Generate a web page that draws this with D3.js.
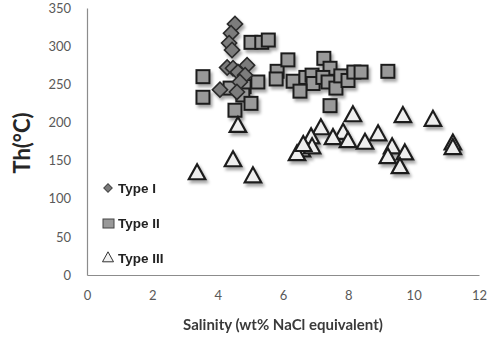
<!DOCTYPE html>
<html>
<head>
<meta charset="utf-8">
<script src="https://cdn.jsdelivr.net/npm/d3@7"></script>
<style>
  body { margin: 0; background: #fff; }
  svg { display: block; }
</style>
</head>
<body>
<div id="chart"></div>
<script>
// Salinity (x) vs homogenisation temperature Th (y), by inclusion type
const typeI = [
  [4.53, 329], [4.41, 317], [4.35, 304], [4.44, 295], [4.29, 272], [4.47, 271],
  [4.90, 275], [4.62, 266], [4.84, 262], [4.07, 243], [4.68, 253], [4.59, 240]
];
const typeII = [
  [5.02, 305], [5.35, 305], [5.55, 308], [3.55, 260], [3.55, 233], [4.38, 245],
  [4.81, 247], [5.23, 253], [4.77, 236], [5.02, 225], [4.53, 216], [5.82, 267],
  [5.79, 257], [6.15, 282], [6.31, 254], [7.25, 284], [7.44, 271], [6.70, 259],
  [6.89, 262], [6.92, 251], [6.52, 241], [7.22, 259], [7.38, 253], [7.62, 245],
  [7.77, 261], [7.99, 255], [8.17, 266], [8.39, 266], [9.21, 267], [7.44, 222]
];
const typeIII = [
  [3.37, 133], [4.47, 150], [5.08, 129], [4.62, 195], [8.14, 209], [9.67, 208],
  [10.59, 203], [7.16, 192], [6.86, 180], [7.84, 186], [7.53, 179], [7.99, 175],
  [8.51, 173], [8.91, 184], [6.58, 163], [6.43, 158], [6.89, 167], [9.34, 167],
  [9.73, 159], [9.21, 154], [9.58, 141], [11.2, 172], [11.2, 166], [6.62, 170]
];
const xTicks = [0, 2, 4, 6, 8, 10, 12];
const yTicks = [0, 50, 100, 150, 200, 250, 300, 350];

const width = 491, height = 337;
const svg = d3.select("#chart").append("svg")
  .attr("width", width).attr("height", height);

const defs = svg.append("defs");
const f = defs.append("filter").attr("id", "shadow")
  .attr("x", "-50%").attr("y", "-50%").attr("width", "200%").attr("height", "200%");
f.append("feDropShadow").attr("dx", 2).attr("dy", 3).attr("stdDeviation", 1.6)
  .attr("flood-color", "#000").attr("flood-opacity", 0.35);

const x = d3.scaleLinear().domain([0, 12]).range([87, 479]);
const y = d3.scaleLinear().domain([0, 350]).range([275, 8]);

// Axes
svg.append("g")
  .attr("transform", `translate(0,${y(0)})`)
  .call(d3.axisBottom(x).tickValues(xTicks).tickSize(0).tickPadding(16))
  .call(g => g.select(".domain").attr("stroke", "#8c8c8c").attr("stroke-width", 1.2))
  .call(g => g.selectAll("text").attr("font-family", "Lato, 'Open Sans', sans-serif")
    .attr("font-size", 13).attr("fill", "#595959"));

svg.append("g")
  .attr("transform", `translate(${x(0)},0)`)
  .call(d3.axisLeft(y).tickValues(yTicks).tickSize(0).tickPadding(16))
  .call(g => g.select(".domain").attr("stroke", "#8c8c8c").attr("stroke-width", 1.2))
  .call(g => g.selectAll("text").attr("font-family", "Lato, 'Open Sans', sans-serif")
    .attr("font-size", 13).attr("fill", "#595959"));

// Points
const pts = svg.append("g").attr("filter", "url(#shadow)");

pts.selectAll("rect.t2").data(typeII).enter().append("rect")
  .attr("x", d => x(d[0]) - 6.5).attr("y", d => y(d[1]) - 6.5)
  .attr("width", 13).attr("height", 13)
  .attr("fill", "#999").attr("stroke", "#1e1e1e").attr("stroke-width", 2);

pts.selectAll("path.t1").data(typeI).enter().append("path")
  .attr("d", d3.symbol(d3.symbolSquare, 115))
  .attr("transform", d => `translate(${x(d[0])},${y(d[1])}) rotate(45)`)
  .attr("fill", "#7b7b7b").attr("stroke", "#2a2a2a").attr("stroke-width", 1.6);

const tri = s => `M0,${-s * 0.62}L${s * 0.55},${s * 0.38}L${-s * 0.55},${s * 0.38}Z`;
pts.selectAll("path.t3").data(typeIII).enter().append("path")
  .attr("d", tri(15))
  .attr("transform", d => `translate(${x(d[0])},${y(d[1])})`)
  .attr("fill", "#eeeeee").attr("stroke", "#1e1e1e").attr("stroke-width", 2.2)
  .attr("stroke-linejoin", "miter");

// Legend
const legend = [
  { name: "Type I", y: 188 },
  { name: "Type II", y: 223 },
  { name: "Type III", y: 258 }
];
const lg = svg.append("g");
lg.append("path").attr("d", d3.symbol(d3.symbolSquare, 36))
  .attr("transform", `translate(108,${legend[0].y}) rotate(45)`)
  .attr("fill", "#7b7b7b").attr("stroke", "#444").attr("stroke-width", 1);
lg.append("rect").attr("x", 103).attr("y", legend[1].y - 4).attr("width", 11).attr("height", 9)
  .attr("fill", "#999").attr("stroke", "#444").attr("stroke-width", 1);
lg.append("path").attr("d", tri(10))
  .attr("transform", `translate(108,${legend[2].y})`)
  .attr("fill", "#f2f2f2").attr("stroke", "#333").attr("stroke-width", 1);
lg.selectAll("text").data(legend).enter().append("text")
  .attr("x", 118).attr("y", d => d.y + 5)
  .attr("font-family", "'Liberation Sans', Arial, sans-serif")
  .attr("font-weight", "bold").attr("font-size", 13.5).attr("fill", "#222")
  .text(d => d.name);

// Axis titles
svg.append("text")
  .attr("x", 283).attr("y", 330)
  .attr("text-anchor", "middle")
  .attr("font-family", "Lato, 'Open Sans', sans-serif")
  .attr("font-weight", "bold").attr("font-size", 15).attr("fill", "#3a3a3a")
  .text("Salinity (wt% NaCl equivalent)");

svg.append("text")
  .attr("transform", "translate(30,143) rotate(-90)")
  .attr("text-anchor", "middle")
  .attr("font-family", "Lato, 'Open Sans', sans-serif")
  .attr("font-weight", "bold").attr("font-size", 22).attr("fill", "#262626")
  .text("Th(°C)");
</script>
</body>
</html>
